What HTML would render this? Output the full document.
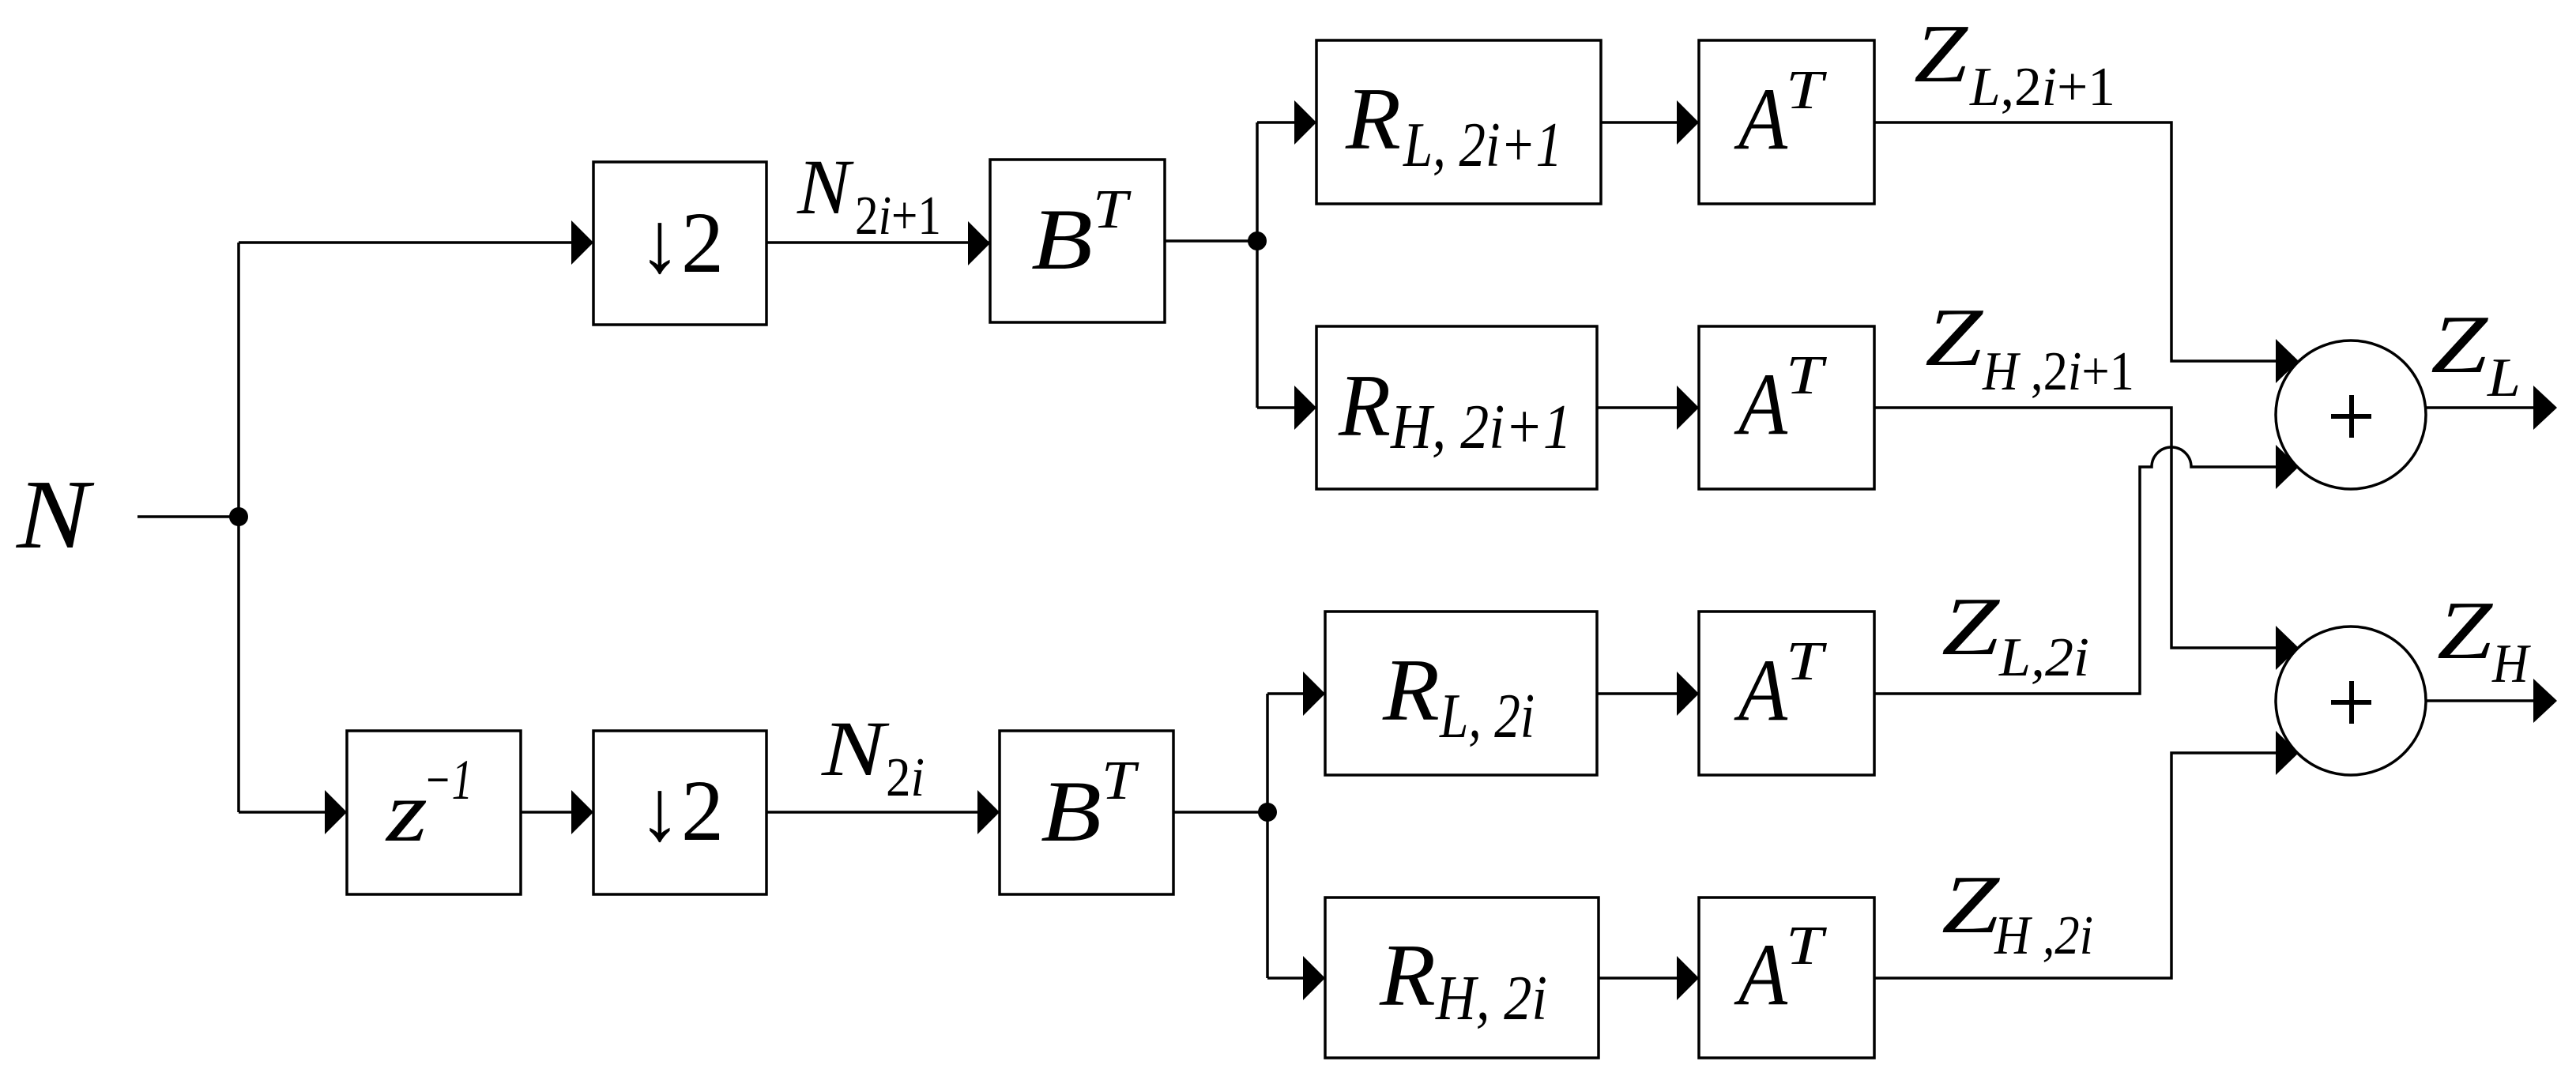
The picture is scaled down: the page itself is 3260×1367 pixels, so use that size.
<!DOCTYPE html>
<html><head><meta charset="utf-8"><style>
html,body{margin:0;padding:0;background:#fff;}
svg{display:block;}
text{font-family:"Liberation Serif","DejaVu Serif",serif;fill:#000;}
.i{font-style:italic;}
</style></head><body>
<svg width="3260" height="1367" viewBox="0 0 3260 1367" xmlns="http://www.w3.org/2000/svg">
<g fill="none" stroke="#000" stroke-width="3.5">
<!-- boxes -->
<rect x="751" y="205" width="219" height="206"/>
<rect x="1253" y="202" width="221" height="206"/>
<rect x="439" y="925" width="220" height="207"/>
<rect x="751" y="925" width="219" height="207"/>
<rect x="1265" y="925" width="220" height="207"/>
<rect x="1666" y="51" width="360" height="207"/>
<rect x="1666" y="413" width="355" height="206"/>
<rect x="1677" y="774" width="344" height="207"/>
<rect x="1677" y="1136" width="346" height="203"/>
<rect x="2150" y="51" width="222" height="207"/>
<rect x="2150" y="413" width="222" height="206"/>
<rect x="2150" y="774" width="222" height="207"/>
<rect x="2150" y="1136" width="222" height="203"/>
<ellipse cx="2975" cy="525" rx="95" ry="94"/>
<ellipse cx="2975" cy="887" rx="95" ry="94"/>
<!-- lines -->
<path d="M174 654 H302 M302 307 V1028 M302 307 H751 M302 1028 H439 M659 1028 H751 M970 307 H1253 M970 1028 H1265"/>
<path d="M1474 305 H1591 M1591 155 V516 M1591 155 H1666 M1591 516 H1666"/>
<path d="M1485 1028 H1604 M1604 878 V1238 M1604 878 H1677 M1604 1238 H1677"/>
<path d="M2026 155 H2150 M2021 516 H2150 M2021 878 H2150 M2023 1238 H2150"/>
<path d="M2372 155 H2748 V457 H2881"/>
<path d="M2372 516 H2748 V820 H2881"/>
<path d="M2372 878 H2708 V591 H2723 A25 25 0 0 1 2773 591 H2881"/>
<path d="M2372 1238 H2748 V953 H2881"/>
<path d="M3070 516 H3210 M3070 887 H3210"/>
</g>
<g fill="#000">
<circle cx="302" cy="654" r="12"/>
<circle cx="1591" cy="305" r="12"/>
<circle cx="1604" cy="1028" r="12"/>
<!-- arrowheads -->
<path d="M723 279 L751 307 L723 335Z"/>
<path d="M1225 280 L1253 308 L1225 336Z"/>
<path d="M411 1000 L439 1028 L411 1056Z"/>
<path d="M723 1000 L751 1028 L723 1056Z"/>
<path d="M1237 1000 L1265 1028 L1237 1056Z"/>
<path d="M1638 127 L1666 155 L1638 183Z"/>
<path d="M1638 488 L1666 516 L1638 544Z"/>
<path d="M1649 850 L1677 878 L1649 906Z"/>
<path d="M1649 1210 L1677 1238 L1649 1266Z"/>
<path d="M2122 127 L2150 155 L2122 183Z"/>
<path d="M2122 488 L2150 516 L2122 544Z"/>
<path d="M2122 850 L2150 878 L2122 906Z"/>
<path d="M2122 1210 L2150 1238 L2122 1266Z"/>
<path d="M2880 429 L2909 457 L2880 485Z"/>
<path d="M2880 563 L2909 591 L2880 619Z"/>
<path d="M2880 792 L2909 820 L2880 848Z"/>
<path d="M2880 925 L2909 953 L2880 981Z"/>
<path d="M3206 488 L3236 516 L3206 544Z"/>
<path d="M3206 859 L3236 887 L3206 915Z"/>
<rect x="2950" y="524" width="51" height="6"/>
<rect x="2973" y="500" width="6" height="54"/>
<rect x="2950" y="886" width="51" height="6"/>
<rect x="2973" y="862" width="6" height="54"/>
</g>
<!-- labels -->
<text class="i" x="21" y="693" font-size="125" textLength="92" lengthAdjust="spacingAndGlyphs">N</text>
<text x="808" y="1063" font-size="110" textLength="108" lengthAdjust="spacingAndGlyphs">↓2</text>
<text x="808" y="344" font-size="110" textLength="108" lengthAdjust="spacingAndGlyphs">↓2</text>
<text class="i" x="1009" y="270" font-size="100" textLength="67" lengthAdjust="spacingAndGlyphs">N</text>
<text x="1082" y="296" font-size="70" textLength="109" lengthAdjust="spacingAndGlyphs">2<tspan class="i">i</tspan>+1</text>
<text class="i" x="1040" y="981" font-size="100" textLength="80" lengthAdjust="spacingAndGlyphs">N</text>
<text x="1121" y="1007" font-size="70" textLength="49" lengthAdjust="spacingAndGlyphs">2<tspan class="i">i</tspan></text>
<text class="i" x="1305" y="340" font-size="110" textLength="78" lengthAdjust="spacingAndGlyphs">B</text>
<text class="i" x="1383" y="288" font-size="70" textLength="44" lengthAdjust="spacingAndGlyphs">T</text>
<text class="i" x="1317" y="1064" font-size="110" textLength="77" lengthAdjust="spacingAndGlyphs">B</text>
<text class="i" x="1394" y="1011" font-size="70" textLength="43" lengthAdjust="spacingAndGlyphs">T</text>
<text class="i" x="489" y="1064" font-size="110" textLength="52" lengthAdjust="spacingAndGlyphs">z</text>
<text class="i" x="536" y="1011" font-size="72" textLength="62" lengthAdjust="spacingAndGlyphs">−1</text>
<text class="i" x="1703" y="188" font-size="112" textLength="70" lengthAdjust="spacingAndGlyphs">R</text>
<text class="i" x="1776" y="210" font-size="80" textLength="201" lengthAdjust="spacingAndGlyphs">L, 2i+1</text>
<text class="i" x="1694" y="551" font-size="112" textLength="66" lengthAdjust="spacingAndGlyphs">R</text>
<text class="i" x="1760" y="567" font-size="80" textLength="229" lengthAdjust="spacingAndGlyphs">H, 2i+1</text>
<text class="i" x="1750" y="911" font-size="112" textLength="72" lengthAdjust="spacingAndGlyphs">R</text>
<text class="i" x="1822" y="933" font-size="80" textLength="120" lengthAdjust="spacingAndGlyphs">L, 2i</text>
<text class="i" x="1746" y="1272" font-size="112" textLength="71" lengthAdjust="spacingAndGlyphs">R</text>
<text class="i" x="1817" y="1290" font-size="80" textLength="141" lengthAdjust="spacingAndGlyphs">H, 2i</text>
<g>
<text class="i" x="2200" y="188" font-size="112" textLength="62" lengthAdjust="spacingAndGlyphs">A</text>
<text class="i" x="2260" y="137" font-size="70" textLength="47" lengthAdjust="spacingAndGlyphs">T</text>
<text class="i" x="2200" y="549" font-size="112" textLength="62" lengthAdjust="spacingAndGlyphs">A</text>
<text class="i" x="2260" y="498" font-size="70" textLength="47" lengthAdjust="spacingAndGlyphs">T</text>
<text class="i" x="2200" y="911" font-size="112" textLength="62" lengthAdjust="spacingAndGlyphs">A</text>
<text class="i" x="2260" y="860" font-size="70" textLength="47" lengthAdjust="spacingAndGlyphs">T</text>
<text class="i" x="2200" y="1271" font-size="112" textLength="62" lengthAdjust="spacingAndGlyphs">A</text>
<text class="i" x="2260" y="1220" font-size="70" textLength="47" lengthAdjust="spacingAndGlyphs">T</text>
</g>
<text class="i" x="2422" y="103" font-size="105" textLength="68" lengthAdjust="spacingAndGlyphs">Z</text>
<text x="2493" y="133" font-size="70" textLength="184" lengthAdjust="spacingAndGlyphs"><tspan class="i">L</tspan>,2<tspan class="i">i</tspan>+1</text>
<text class="i" x="2436" y="462" font-size="105" textLength="73" lengthAdjust="spacingAndGlyphs">Z</text>
<text x="2509" y="493" font-size="70" textLength="192" lengthAdjust="spacingAndGlyphs"><tspan class="i">H</tspan> ,2<tspan class="i">i</tspan>+1</text>
<text class="i" x="2457" y="828" font-size="105" textLength="73" lengthAdjust="spacingAndGlyphs">Z</text>
<text class="i" x="2530" y="855" font-size="70" textLength="114" lengthAdjust="spacingAndGlyphs">L,2i</text>
<text class="i" x="2457" y="1180" font-size="105" textLength="73" lengthAdjust="spacingAndGlyphs">Z</text>
<text class="i" x="2524" y="1207" font-size="70" textLength="125" lengthAdjust="spacingAndGlyphs">H ,2i</text>
<text class="i" x="3076" y="471" font-size="105" textLength="72" lengthAdjust="spacingAndGlyphs">Z</text>
<text class="i" x="3148" y="501" font-size="70" textLength="42" lengthAdjust="spacingAndGlyphs">L</text>
<text class="i" x="3084" y="833" font-size="105" textLength="70" lengthAdjust="spacingAndGlyphs">Z</text>
<text class="i" x="3154" y="863" font-size="70" textLength="46" lengthAdjust="spacingAndGlyphs">H</text>
</svg>
</body></html>
